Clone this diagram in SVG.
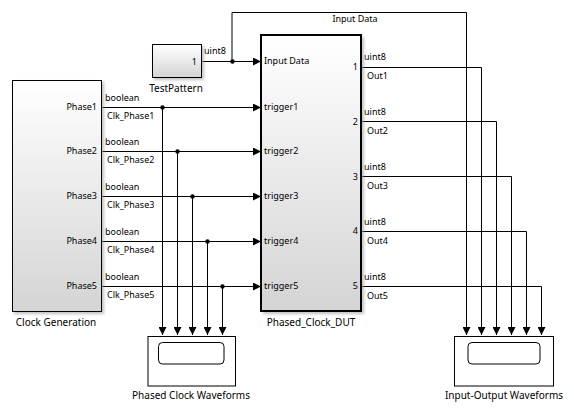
<svg xmlns="http://www.w3.org/2000/svg" width="574" height="415" viewBox="0 0 574 415">
<defs>
<linearGradient id="g" x1="0" y1="0" x2="0" y2="1"><stop offset="0" stop-color="#ffffff"/><stop offset="1" stop-color="#d4d4d4"/></linearGradient>
<filter id="sh" x="-20%" y="-20%" width="140%" height="140%"><feGaussianBlur stdDeviation="1.5"/></filter>
<marker id="a" viewBox="0 0 8 8" refX="8" refY="4" markerWidth="8" markerHeight="8" markerUnits="userSpaceOnUse" orient="auto"><path d="M0,0 L8,4 L0,8 Z" fill="#000"/></marker>
</defs>
<style>
text{font-family:"Noto Sans","Open Sans","DejaVu Sans",sans-serif;font-size:9px;fill:#000}
.lbl{font-size:10px}
.blk{stroke:#000;stroke-width:1;fill:url(#g)}
.sha{fill:#999;opacity:0.6}
.w{fill:none;stroke:#000;stroke-width:1}
.ar{fill:none;stroke:#000;stroke-width:1;marker-end:url(#a)}
.dot{fill:#000}
</style>
<rect width="574" height="415" fill="#fff"/>
<g id="connectors">
<path class="ar" d="M202,61.5 H261"/>
<path class="ar" d="M232,61.5 V12.5 H466.5 V335"/>
<path class="ar" d="M102,107.5 H261"/>
<path class="ar" d="M102,151.5 H261"/>
<path class="ar" d="M102,196.5 H261"/>
<path class="ar" d="M102,241.5 H261"/>
<path class="ar" d="M102,286.5 H261"/>
<path class="ar" d="M162.5,107.5 V335"/>
<path class="ar" d="M177.5,151.5 V335"/>
<path class="ar" d="M192.5,196.5 V335"/>
<path class="ar" d="M207.5,241.5 V335"/>
<path class="ar" d="M222.5,286.5 V335"/>
<path class="ar" d="M362,67.5 H481.5 V335"/>
<path class="ar" d="M362,121.5 H496.5 V335"/>
<path class="ar" d="M362,176.5 H511.5 V335"/>
<path class="ar" d="M362,231.5 H526.5 V335"/>
<path class="ar" d="M362,286.5 H541.5 V335"/>
<circle class="dot" cx="232.5" cy="61.5" r="2.2"/>
<circle class="dot" cx="162.5" cy="107.5" r="2.2"/>
<circle class="dot" cx="177.5" cy="151.5" r="2.2"/>
<circle class="dot" cx="192.5" cy="196.5" r="2.2"/>
<circle class="dot" cx="207.5" cy="241.5" r="2.2"/>
<circle class="dot" cx="222.5" cy="286.5" r="2.2"/>
<text x="204" y="54">uint8</text>
<text x="355" y="22" text-anchor="middle">Input Data</text>
<text x="105" y="101">boolean</text><text x="107" y="119">Clk_Phase1</text>
<text x="105" y="145">boolean</text><text x="107" y="163">Clk_Phase2</text>
<text x="105" y="190">boolean</text><text x="107" y="208">Clk_Phase3</text>
<text x="105" y="235">boolean</text><text x="107" y="253">Clk_Phase4</text>
<text x="105" y="280">boolean</text><text x="107" y="298">Clk_Phase5</text>
<text x="364" y="60">uint8</text><text x="367" y="79">Out1</text>
<text x="364" y="115">uint8</text><text x="367" y="134">Out2</text>
<text x="364" y="170">uint8</text><text x="367" y="189">Out3</text>
<text x="364" y="225">uint8</text><text x="367" y="244">Out4</text>
<text x="364" y="280">uint8</text><text x="367" y="299">Out5</text>
</g>
<g id="TestPattern">
<rect class="sha" x="154" y="46" width="50" height="34" filter="url(#sh)"/>
<rect class="blk" x="152.5" y="44.5" width="49" height="33"/>
<text x="197" y="65" text-anchor="end">1</text>
<text class="lbl" x="176" y="92" text-anchor="middle">TestPattern</text>
</g>
<g id="ClockGeneration">
<rect class="sha" x="14" y="82" width="90" height="232" filter="url(#sh)"/>
<rect class="blk" x="12.5" y="80.5" width="89" height="231"/>
<text x="97" y="110" text-anchor="end">Phase1</text>
<text x="97" y="154" text-anchor="end">Phase2</text>
<text x="97" y="199" text-anchor="end">Phase3</text>
<text x="97" y="244" text-anchor="end">Phase4</text>
<text x="97" y="289" text-anchor="end">Phase5</text>
<text class="lbl" x="56" y="326" text-anchor="middle">Clock Generation</text>
</g>
<g id="Phased_Clock_DUT">
<rect class="sha" x="263" y="37" width="101" height="277" filter="url(#sh)"/>
<rect x="261" y="35" width="100" height="276" fill="url(#g)" stroke="#000" stroke-width="2"/>
<text x="264" y="64">Input Data</text>
<text x="264" y="110">trigger1</text>
<text x="264" y="154">trigger2</text>
<text x="264" y="199">trigger3</text>
<text x="264" y="244">trigger4</text>
<text x="264" y="289">trigger5</text>
<text x="358" y="70" text-anchor="end">1</text>
<text x="358" y="125" text-anchor="end">2</text>
<text x="358" y="180" text-anchor="end">3</text>
<text x="358" y="234" text-anchor="end">4</text>
<text x="358" y="289" text-anchor="end">5</text>
<text class="lbl" x="311" y="326" text-anchor="middle">Phased_Clock_DUT</text>
</g>
<g id="PhasedClockWaveforms">
<rect x="148" y="336.5" width="87.5" height="49.5" fill="#fff" stroke="#000"/>
<rect x="158.5" y="342.5" width="65.5" height="21.5" rx="4" fill="#fff" stroke="#000"/>
<text class="lbl" x="191" y="399" text-anchor="middle">Phased Clock Waveforms</text>
</g>
<g id="InputOutputWaveforms">
<rect x="454.5" y="336.5" width="99" height="49.5" fill="#fff" stroke="#000"/>
<rect x="468" y="342.5" width="72" height="21.5" rx="4" fill="#fff" stroke="#000"/>
<text class="lbl" x="504" y="399" text-anchor="middle">Input-Output Waveforms</text>
</g>
</svg>
